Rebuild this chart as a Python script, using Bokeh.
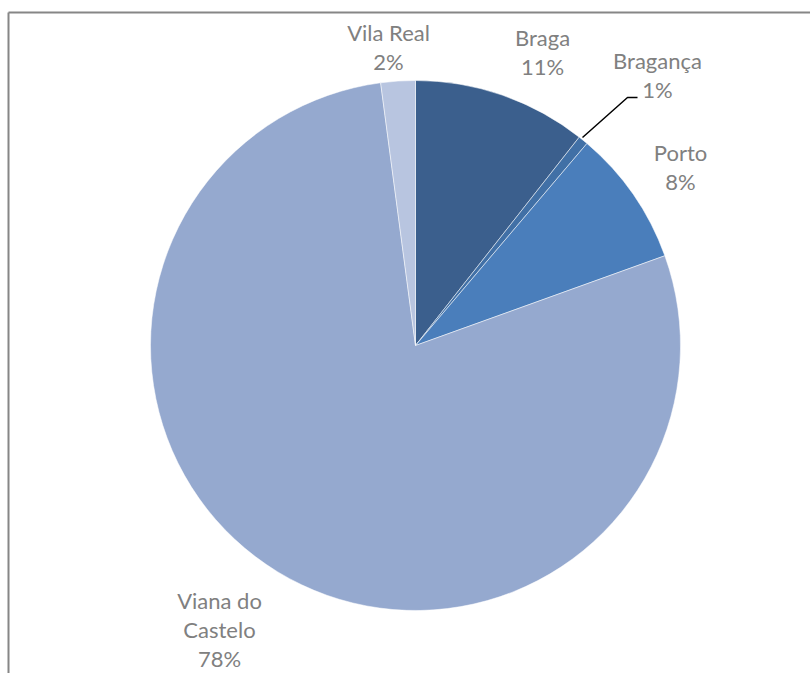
import math
from bokeh.plotting import figure
from bokeh.models import ColumnDataSource, Range1d
from bokeh.core.properties import value
from bokeh.embed import file_html
from bokeh.resources import INLINE

# ---- data ----
districts = ["Braga", "Bragança", "Porto", "Viana do Castelo", "Vila Real"]
shares = [10.6, 0.6, 8.3, 78.4, 2.1]
colors = ["#3B5F8D", "#4170A6", "#4A7EBB", "#95A9CF", "#B8C5E0"]
label_lines = [["Braga"], ["Bragança"], ["Porto"], ["Viana do", "Castelo"], ["Vila Real"]]

W, H = 810, 673

def px(x):
    return x

def py(y):
    return H - y

p = figure(width=W, height=H, output_backend="svg", toolbar_location=None,
           x_range=Range1d(0, W), y_range=Range1d(0, H), min_border=0)
p.axis.visible = False
p.grid.visible = False
p.outline_line_color = None
p.background_fill_color = "white"
p.border_fill_color = "white"

# chart border (left and top visible)
p.line([px(8), px(8)], [py(12), py(700)], line_color="#868686", line_width=2)
p.line([px(8), px(830)], [py(12), py(12)], line_color="#868686", line_width=2)

total = sum(shares)
starts, ends = [], []
cum = 0.0
for v in shares:
    starts.append(math.pi / 2 - 2 * math.pi * cum / total)
    cum += v
    ends.append(math.pi / 2 - 2 * math.pi * cum / total)

cx, cy, r = px(415), py(345), 265
src = ColumnDataSource(dict(start=starts, end=ends, color=colors, name=districts))
p.wedge(x=cx, y=cy, radius=r, start_angle="start", end_angle="end", direction="clock",
        fill_color="color", line_color="white", line_width=1, line_alpha=0.5, source=src)

# labels
label_pos = [(542, 37), (657, 60), (680, 152), (219, 600), (388, 32)]
tx, ty, tt = [], [], []
for lines, v, (lx, ly) in zip(label_lines, shares, label_pos):
    pct = f"{round(v / total * 100)}%"
    for i, s in enumerate(lines + [pct]):
        tx.append(px(lx))
        ty.append(py(ly + i * 29))
        tt.append(s)
p.text(x=tx, y=ty, text=tt, text_align="center", text_baseline="middle",
       text_font=value("Lato"), text_font_size="22px", text_color="#808080")

# leader line for Bragança
p.line([px(582), px(627), px(637)], [py(137), py(97), py(97)], line_color="black", line_width=1.5)

open("out.html", "w").write(file_html(p, INLINE))
